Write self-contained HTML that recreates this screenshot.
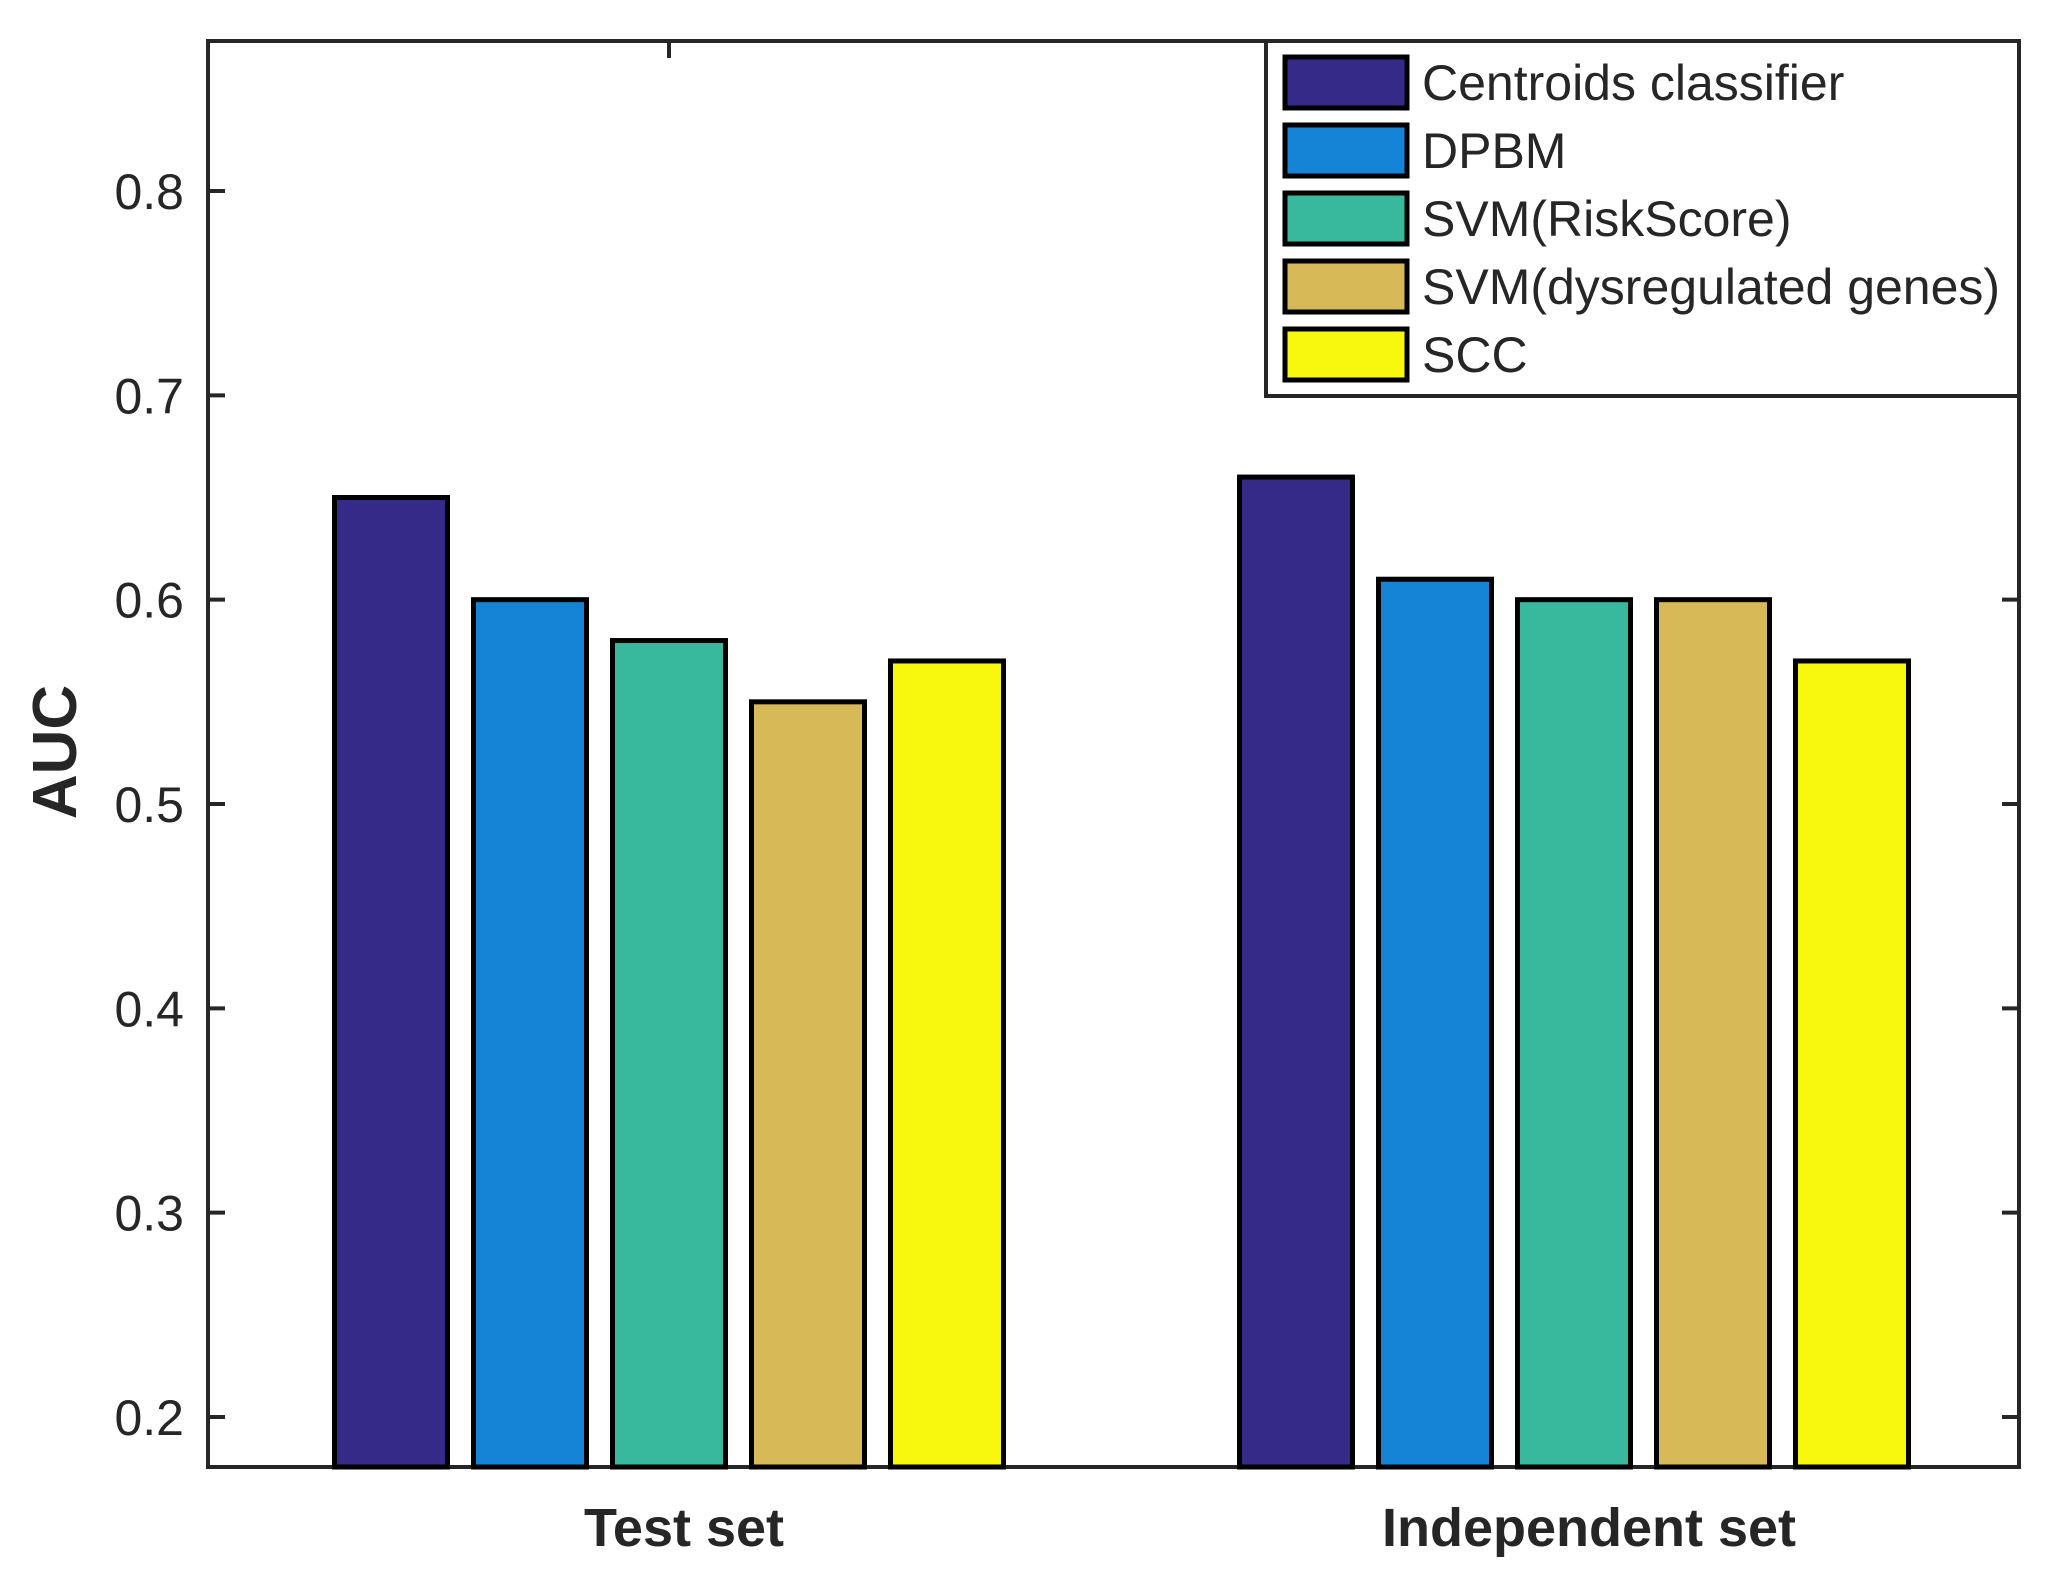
<!DOCTYPE html>
<html><head><meta charset="utf-8"><style>
html,body{margin:0;padding:0;background:#fff;}
svg{display:block;font-family:"Liberation Sans",Arial,sans-serif;}
</style></head><body>
<svg id="chart" width="2060" height="1578" viewBox="0 0 2060 1578" xmlns="http://www.w3.org/2000/svg">
<rect x="0" y="0" width="2060" height="1578" fill="#fff"/>
<g id="axes"></g>
<g id="bars"></g>
<g id="legend"></g>
</svg>
<script>
const categories = ["Test set", "Independent set"];
const seriesNames = ["Centroids classifier", "DPBM", "SVM(RiskScore)", "SVM(dysregulated genes)", "SCC"];
const centroidsValues = [0.65, 0.66];
const dpbmValues = [0.60, 0.61];
const svmRiskValues = [0.58, 0.60];
const svmDysValues = [0.55, 0.60];
const sccValues = [0.57, 0.57];
const yTicks = [0.2, 0.3, 0.4, 0.5, 0.6, 0.7, 0.8];
const yTickLabels = ["0.2", "0.3", "0.4", "0.5", "0.6", "0.7", "0.8"];

const seriesValues = [centroidsValues, dpbmValues, svmRiskValues, svmDysValues, sccValues];
const colors = ["#352a87", "#1584d6", "#38b89c", "#d8b957", "#f8f80e"];
const NS = "http://www.w3.org/2000/svg";
const L = 208, R = 2019, T = 41, B = 1467;
function y(v){ return 1417 - (v - 0.2) * (1417 - 191) / 0.6; }
function x(c){ return 669 + (c - 1) * 905; }
const pitch = 139, barW = 113;
function mk(tag, attrs, parent){ const e = document.createElementNS(NS, tag); for (const k in attrs) e.setAttribute(k, attrs[k]); parent.appendChild(e); return e; }

const bars = document.getElementById('bars');
seriesValues.forEach((vals, s) => {
  vals.forEach((v, c) => {
    const cx = x(c + 1) + (s - 2) * pitch;
    const r = mk('rect', {x: cx - barW/2, y: y(v), width: barW, height: B - y(v), fill: colors[s], stroke: '#000', 'stroke-width': 5}, bars);
    
    
  });
});

const axes = document.getElementById('axes');
yTicks.forEach((t, i) => {
  const yy = y(t);
  const tl = mk('line', {x1: L, x2: L + 17, y1: yy, y2: yy, stroke: '#262626', 'stroke-width': 4}, axes);
  
  
  const tr = mk('line', {x1: R - 17, x2: R, y1: yy, y2: yy, stroke: '#262626', 'stroke-width': 4}, axes);
  
  
  const tx = mk('text', {x: 184, y: yy + 18, 'text-anchor': 'end', 'font-size': 50, fill: '#262626'}, axes);
  tx.textContent = yTickLabels[i];
  
  
});
categories.forEach((c, i) => {
  const xx = x(i + 1);
  const tt = mk('line', {x1: xx, x2: xx, y1: T, y2: T + 17, stroke: '#262626', 'stroke-width': 4}, axes);
  
  
  const lb = mk('text', {x: xx + 15, y: 1546, 'text-anchor': 'middle', 'font-size': 54, 'font-weight': 'bold', fill: '#262626'}, axes);
  lb.textContent = c;
  
  
});
const frame = mk('rect', {x: L, y: T, width: R - L, height: B - T, fill: 'none', stroke: '#262626', 'stroke-width': 4}, axes);


const yt = mk('text', {x: 0, y: 0, transform: 'translate(76,752) rotate(-90)', 'text-anchor': 'middle', 'font-size': 62, 'font-weight': 'bold', fill: '#262626'}, axes);
yt.textContent = 'AUC';



const legend = document.getElementById('legend');
const lb = mk('rect', {x: 1266, y: 41, width: 753, height: 355, fill: '#fff', stroke: '#262626', 'stroke-width': 4}, legend);


seriesNames.forEach((n, i) => {
  const top = 55 + i * 68;
  const sw = mk('rect', {x: 1285, y: top + 2, width: 122, height: 51, fill: colors[i], stroke: '#000', 'stroke-width': 5}, legend);
  
  
  const t = mk('text', {x: 1422, y: top + 45, 'font-size': 50, fill: '#262626'}, legend);
  t.textContent = n;
  
  
});
</script>
</body></html>
